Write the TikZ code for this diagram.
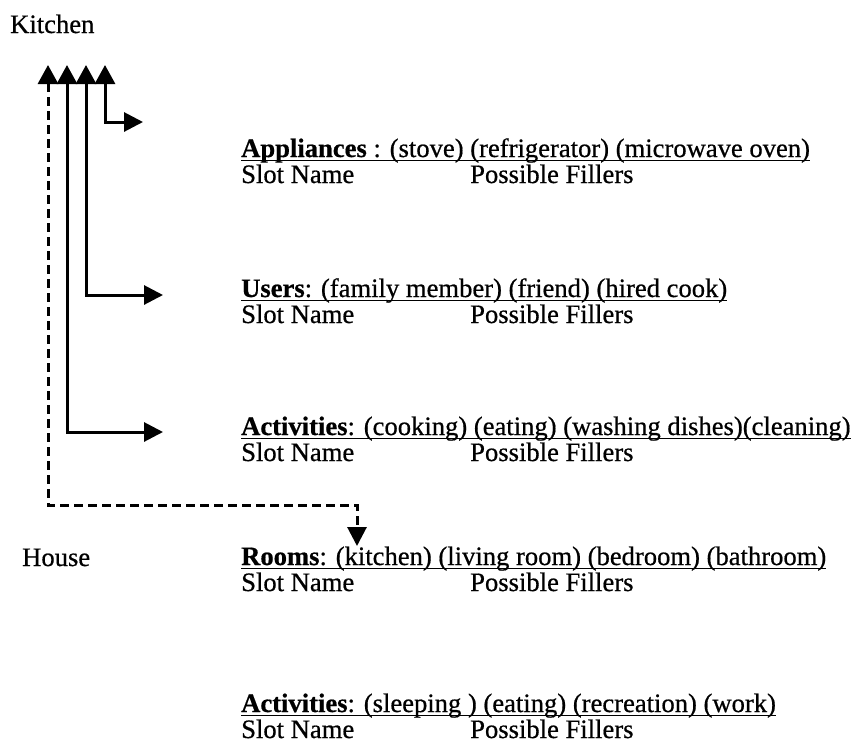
\documentclass[tikz,border=0pt]{standalone}
\usepackage{fontspec}
\setmainfont{Liberation Serif}[FakeBold=0.6]
\usetikzlibrary{arrows.meta}
\begin{document}
\begin{tikzpicture}[x=1pt,y=-1pt,
  txt/.style={anchor=base west,inner sep=0pt,font=\fontsize{26.6}{28}\selectfont},
  conn/.style={line width=3pt,{Triangle[length=19pt,width=20pt]}-{Triangle[length=19pt,width=19pt]}},
  dconn/.style={conn,dash pattern=on 9pt off 5pt},
  ul/.style={line width=1.8pt}]
\useasboundingbox (0,0) rectangle (855,745);
\fill[white] (0,0) rectangle (855,745);
% labels
\node[txt] (kitchen) at (10,33) {Kitchen};
\node[txt] (house) at (22,566) {House};
% frames
\node[txt] (h1) at (241,157) {\textbf{Appliances} : (stove) (refrigerator) (microwave oven)};
\node[txt] (s1) at (241,183) {Slot Name};
\node[txt] (f1) at (470,183) {Possible Fillers};
\node[txt] (h2) at (241,297) {\textbf{Users}: (family member) (friend) (hired cook)};
\node[txt] (s2) at (241,323) {Slot Name};
\node[txt] (f2) at (470,323) {Possible Fillers};
\node[txt] (h3) at (241,435) {\textbf{Activities}: (cooking) (eating) (washing dishes)(cleaning)};
\node[txt] (s3) at (241,461) {Slot Name};
\node[txt] (f3) at (470,461) {Possible Fillers};
\node[txt] (h4) at (241,565) {\textbf{Rooms}: (kitchen) (living room) (bedroom) (bathroom)};
\node[txt] (s4) at (241,591) {Slot Name};
\node[txt] (f4) at (470,591) {Possible Fillers};
\node[txt] (h5) at (241,712) {\textbf{Activities}: (sleeping ) (eating) (recreation) (work)};
\node[txt] (s5) at (241,738) {Slot Name};
\node[txt] (f5) at (470,738) {Possible Fillers};
% underlines
\foreach \n in {h1,h2,h3,h4,h5}
  \draw[ul] ([yshift=-3.5pt]\n.base west) -- ([yshift=-3.5pt]\n.base east);
% connector ends
\coordinate (t1) at (48,65);
\coordinate (t2) at (67,65);
\coordinate (t3) at (86,65);
\coordinate (t4) at (105,65);
\coordinate (e4) at (143,122);
\coordinate (e3) at (163,295);
\coordinate (e2) at (163,432);
\coordinate (e1) at (357,546);
% connectors
\draw[conn] (t4) |- (e4);
\draw[conn] (t3) |- (e3);
\draw[conn] (t2) |- (e2);
\draw[dconn] (t1) -- (48,505) -| (e1);
\end{tikzpicture}
\end{document}
